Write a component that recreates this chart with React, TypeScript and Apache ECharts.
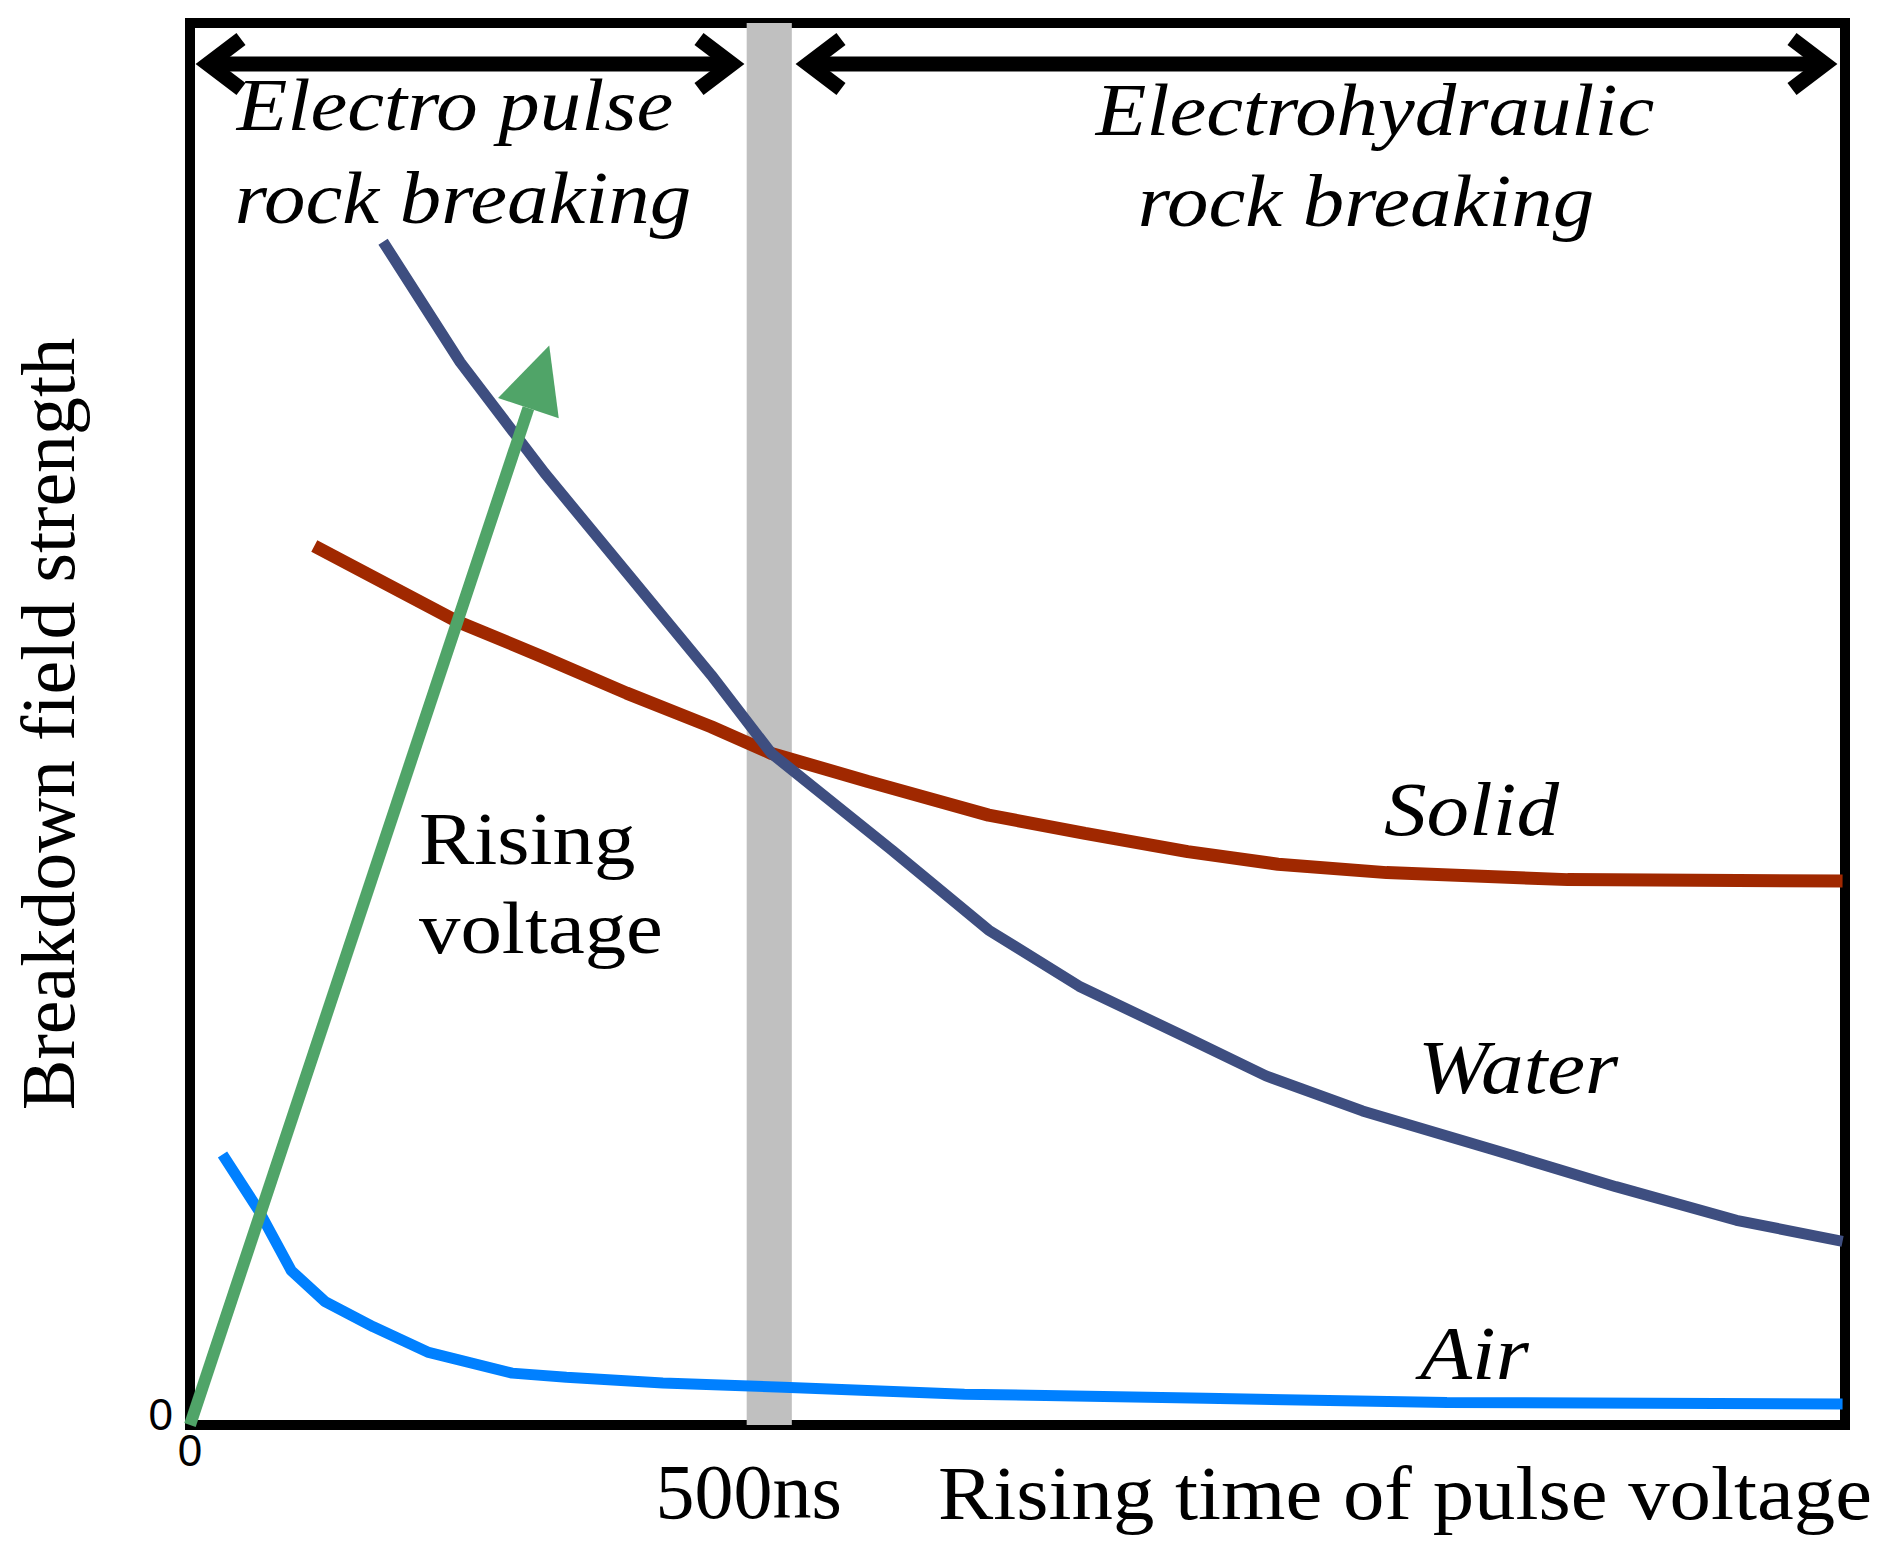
import React, { useEffect, useRef } from 'react';
import * as echarts from 'echarts';

// ---- data (x: arbitrary time units with 500 = 500ns, y: relative field strength 0..100) ----
const X_MAX = 1430;
const Y_MAX = 100;

const waterX = [166.8, 233.5, 306.4, 377.3, 450.3, 502.4, 606.6, 690.0, 768.2, 862.0, 929.7, 1013.1, 1127.7, 1232.0, 1336.2, 1427.9];
const waterY = [84.4, 75.8, 67.9, 60.8, 53.5, 47.9, 41.0, 35.3, 31.3, 27.6, 24.9, 22.4, 19.6, 17.0, 14.6, 13.1];

const solidX = [107.4, 231.4, 304.3, 377.3, 450.3, 502.4, 585.8, 690.0, 773.4, 862.0, 940.1, 1033.9, 1190.3, 1427.9];
const solidY = [62.7, 57.3, 54.8, 52.2, 49.8, 47.9, 45.9, 43.5, 42.2, 40.9, 40.0, 39.4, 38.9, 38.8];

const airX = [28.1, 59.4, 87.6, 116.7, 158.4, 205.3, 278.3, 325.2, 408.6, 512.8, 669.1, 877.6, 1086.0, 1427.9];
const airY = [19.3, 15.3, 11.0, 8.8, 7.0, 5.2, 3.7, 3.4, 3.0, 2.7, 2.2, 1.9, 1.6, 1.5];

// rising-voltage arrow: from origin to tip
const risingArrowX = [0, 310.4];
const risingArrowY = [0, 77.0];

// 500 ns boundary band
const bandX = [481, 520];

const xTickValues = [0, 500];
const xTickLabels = ['0', '500ns'];
const yTickLabel = '0';

const seriesNames = ['Solid', 'Water', 'Air'];

export default function App() {
  const ref = useRef<HTMLDivElement>(null);

  useEffect(() => {
    document.body.style.margin = '0';
    const chart = echarts.init(ref.current!, null, { renderer: 'svg' });
    const serif = "'Liberation Serif', 'Times New Roman', serif";
    const sans = "'Liberation Sans', Arial, sans-serif";

    const zip = (xs: number[], ys: number[]) => xs.map((x, i) => [x, ys[i]]);

    chart.setOption({
      animation: false,
      backgroundColor: '#ffffff',
      grid: {
        left: 190,
        right: 42,
        top: 23,
        bottom: 122,
        show: true,
        borderColor: '#000000',
        borderWidth: 10,
        backgroundColor: 'transparent',
      },
      xAxis: {
        type: 'value',
        min: 0,
        max: X_MAX,
        interval: 500,
        axisLine: { show: false },
        axisTick: { show: false },
        splitLine: { show: false },
        axisLabel: {
          margin: 0,
          showMaxLabel: false,
          formatter: (v: number) => {
            const i = xTickValues.indexOf(v);
            if (i < 0) return '';
            return i === 0 ? `{z|${xTickLabels[i]}}` : `{n|${xTickLabels[i]}}`;
          },
          rich: {
            z: { fontFamily: sans, fontSize: 44, lineHeight: 44, color: '#000', padding: [6, 0, 0, 0] },
            n: { fontFamily: serif, fontSize: 78, lineHeight: 78, color: '#000', padding: [54, 40, 0, 0] },
          },
        },
      },
      yAxis: {
        type: 'value',
        min: 0,
        max: Y_MAX,
        interval: 50,
        axisLine: { show: false },
        axisTick: { show: false },
        splitLine: { show: false },
        name: 'Breakdown field strength',
        nameLocation: 'middle',
        nameGap: 104,
        nameTextStyle: { fontFamily: serif, fontSize: 76, color: '#000' },
        axisLabel: {
          margin: 17,
          formatter: (v: number) => (v === 0 ? `{y|${yTickLabel}}` : ''),
          rich: {
            y: { fontFamily: sans, fontSize: 44, lineHeight: 44, color: '#000', padding: [0, 0, 22, 0] },
          },
        },
      },
      series: [
        {
          name: 'band',
          type: 'line',
          data: [],
          z: 1,
          markArea: {
            silent: true,
            itemStyle: { color: '#C0C0C0' },
            data: [[{ xAxis: bandX[0] }, { xAxis: bandX[1] }]],
          },
        },
        {
          name: seriesNames[0],
          type: 'line',
          data: zip(solidX, solidY),
          showSymbol: false,
          z: 3,
          lineStyle: { color: '#A02800', width: 13 },
        },
        {
          name: seriesNames[1],
          type: 'line',
          data: zip(waterX, waterY),
          showSymbol: false,
          z: 4,
          lineStyle: { color: '#3E4E80', width: 11 },
        },
        {
          name: seriesNames[2],
          type: 'line',
          data: zip(airX, airY),
          showSymbol: false,
          z: 5,
          lineStyle: { color: '#0080FF', width: 11 },
        },
      ],
    });

    // rising voltage arrow (through the grid's scales)
    const p0 = chart.convertToPixel({ gridIndex: 0 }, [risingArrowX[0], risingArrowY[0]]) as number[];
    const p1 = chart.convertToPixel({ gridIndex: 0 }, [risingArrowX[1], risingArrowY[1]]) as number[];
    const dx = p1[0] - p0[0];
    const dy = p1[1] - p0[1];
    const len = Math.sqrt(dx * dx + dy * dy);
    const ux = dx / len;
    const uy = dy / len;
    const nx = -uy;
    const ny = ux;
    const headL = 66;
    const headW = 64;
    const bx = p1[0] - ux * headL;
    const by = p1[1] - uy * headL;
    const green = '#50A468';

    const AY = 64;
    const chevron = (vx: number, dir: number) => ({
      type: 'polyline',
      z: 50,
      shape: { points: [[vx + dir * 33, AY - 25], [vx, AY], [vx + dir * 33, AY + 25]] },
      style: { stroke: '#000', lineWidth: 15, fill: 'none', lineJoin: 'miter', lineCap: 'butt', miterLimit: 10 },
    });
    const shaft = (xa: number, xb: number) => ({
      type: 'line',
      z: 50,
      shape: { x1: xa, y1: AY, x2: xb, y2: AY },
      style: { stroke: '#000', lineWidth: 15 },
    });

    const txt = (text: string, x: number, y: number, opts: any) => ({
      type: 'text',
      z: 60,
      x,
      y,
      scaleX: opts.scaleX ?? 1.12,
      style: {
        text,
        fontFamily: serif,
        fontSize: opts.fontSize ?? 74,
        fontStyle: opts.italic ? 'italic' : 'normal',
        fill: '#000',
        align: opts.align ?? 'center',
        verticalAlign: 'middle',
      },
    });

    chart.setOption({
      graphic: [
        // rising voltage arrow
        {
          type: 'line',
          z: 40,
          shape: { x1: p0[0], y1: p0[1], x2: bx, y2: by },
          style: { stroke: green, lineWidth: 12 },
        },
        {
          type: 'polygon',
          z: 41,
          shape: {
            points: [
              [p1[0], p1[1]],
              [bx + nx * headW / 2, by + ny * headW / 2],
              [bx - nx * headW / 2, by - ny * headW / 2],
            ],
          },
          style: { fill: green },
        },
        // top double arrows
        shaft(208, 732),
        chevron(208, 1),
        chevron(732, -1),
        shaft(808, 1825),
        chevron(808, 1),
        chevron(1825, -1),
        // region labels
        txt('Electro pulse', 455, 105, { italic: true }),
        txt('rock breaking', 463, 198, { italic: true }),
        txt('Electrohydraulic', 1375, 110, { italic: true }),
        txt('rock breaking', 1366, 201, { italic: true }),
        // curve labels
        txt('Solid', 1384, 809, { italic: true, fontSize: 76, align: 'left' }),
        txt('Water', 1418, 1067, { italic: true, fontSize: 76, align: 'left' }),
        txt('Air', 1420, 1353, { italic: true, fontSize: 76, align: 'left' }),
        txt('Rising', 419, 839, { fontSize: 74, align: 'left' }),
        txt('voltage', 419, 928, { fontSize: 74, align: 'left' }),
        // x axis title
        txt('Rising time of pulse voltage', 1872, 1493, { fontSize: 76, align: 'right', scaleX: 1.09 }),
      ],
    });

    return () => chart.dispose();
  }, []);

  return <div ref={ref} style={{ width: 1887, height: 1547 }} />;
}
